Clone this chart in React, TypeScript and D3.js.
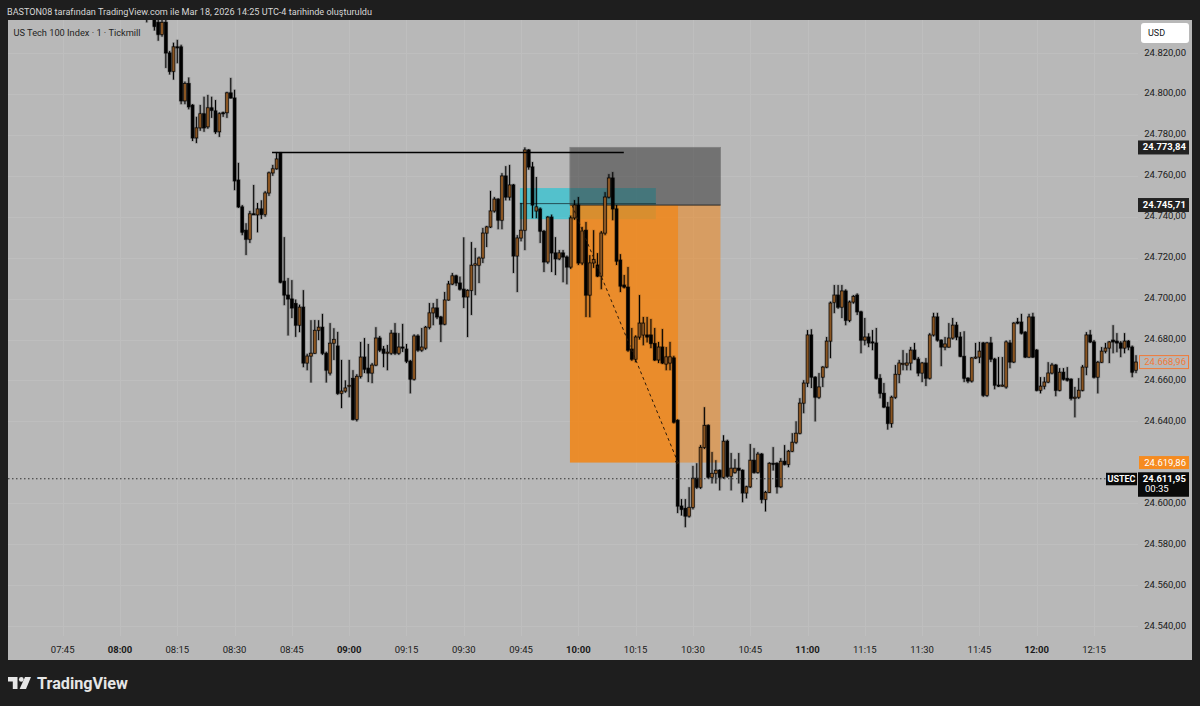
import React from 'react';
import * as d3 from 'd3';

const W = 1200;
const H = 706;

const titleText = 'BASTON08 tarafından TradingView.com ile Mar 18, 2026 14:25 UTC-4 tarihinde oluşturuldu';
const legendText = 'US Tech 100 Index · 1 · Tickmill';

// minutes after 08:00 of the first candle (1-minute candles)
const firstMinute = 7;
// [open, high, low, close]
const candles: number[][] = [
  [24838, 24842, 24835, 24837], [24840, 24844, 24836.5, 24838], [24839, 24841, 24831, 24833], [24835, 24837, 24826, 24829],
  [24829, 24838, 24828, 24835], [24835, 24837, 24812.7, 24820], [24820, 24821, 24809.5, 24811], [24811, 24825, 24807, 24823],
  [24823, 24826.4, 24815, 24822.8], [24823, 24824, 24795, 24796.6], [24796.6, 24806, 24795, 24805], [24805, 24808, 24792.5, 24793.7],
  [24794.5, 24795, 24777, 24778.5], [24778.5, 24788.8, 24776, 24783.4], [24783.4, 24794.6, 24782, 24790.3], [24790.3, 24798.6, 24781.5, 24783.4],
  [24783.9, 24799.5, 24783, 24793.2], [24793.2, 24798.6, 24788.3, 24792], [24791.7, 24797, 24780.5, 24781.5], [24781.5, 24791, 24779, 24790.3],
  [24790.8, 24791.3, 24788.8, 24790.5], [24790.8, 24801, 24788.3, 24800.5], [24800.5, 24807.8, 24797.8, 24798], [24798, 24802, 24753, 24757.5],
  [24757.9, 24766.3, 24744.3, 24744.8], [24744.8, 24745.7, 24731, 24732.4], [24733.4, 24736.8, 24721.3, 24729], [24729, 24742.8, 24727.2, 24741.4],
  [24741.4, 24755.5, 24740.9, 24741.2], [24740.9, 24746.7, 24732.4, 24743.8], [24743.8, 24748, 24738.9, 24741], [24741, 24752.5, 24740, 24751.6],
  [24751.6, 24762, 24750.2, 24761.4], [24761.4, 24765.3, 24760, 24763.4], [24763.4, 24771.5, 24763, 24768.2], [24771, 24771.5, 24707.5, 24708],
  [24708.5, 24730, 24696.8, 24701.7], [24701.7, 24710, 24682, 24699.8], [24699.8, 24709, 24690.5, 24695.4], [24697.5, 24699.5, 24681.3, 24687],
  [24687, 24697, 24683.6, 24695.8], [24695.8, 24704.1, 24666.5, 24668.5], [24668.5, 24673, 24665, 24671.9], [24671.9, 24689.4, 24659, 24673.3],
  [24673.3, 24689.5, 24673, 24684.5], [24684.5, 24689.4, 24679.7, 24686], [24686, 24692.5, 24672.5, 24673.3], [24673.3, 24674, 24659, 24665],
  [24663.6, 24688, 24662.5, 24678.2], [24678.2, 24685.5, 24670, 24680], [24676.8, 24683.7, 24653, 24653.7], [24653.7, 24670, 24646.5, 24654.8],
  [24654.8, 24660, 24654, 24656.3], [24657.2, 24670, 24651.8, 24657.5], [24661, 24665, 24640.5, 24641], [24641, 24663, 24640, 24662],
  [24662, 24678.8, 24661, 24671.4], [24671.4, 24680.7, 24663.6, 24665.5], [24666, 24677.8, 24659.2, 24663.6], [24663.6, 24668.5, 24658.7, 24667.5],
  [24667.5, 24686, 24667, 24680.7], [24680.7, 24681.7, 24673.9, 24674.8], [24675.3, 24676.8, 24666.5, 24673.3], [24673.3, 24677.3, 24665, 24673.8],
  [24673.3, 24684.6, 24672.5, 24683.1], [24683.1, 24688, 24672.5, 24673.3], [24673.3, 24683.1, 24672.5, 24676.3], [24676.3, 24687.6, 24673.9, 24676],
  [24675.3, 24677.8, 24668.5, 24669.4], [24669.4, 24670, 24653.7, 24660.6], [24660.6, 24682.5, 24660, 24681.7], [24681.7, 24682.5, 24674, 24674.8],
  [24674.8, 24685.6, 24674, 24676.3], [24675.8, 24686.6, 24675, 24686], [24686, 24697.8, 24685, 24693], [24693, 24697.8, 24687, 24695.4],
  [24695.4, 24699.8, 24690, 24691], [24691, 24691.5, 24678.8, 24687.5], [24687.5, 24703.2, 24687, 24699.3], [24699.3, 24708.6, 24699, 24707.1],
  [24707.1, 24712.5, 24706.6, 24711.1], [24711.1, 24711.6, 24706.2, 24707.6], [24707.6, 24710.7, 24704, 24704.6], [24704.6, 24729.9, 24695.4, 24700.8],
  [24700.8, 24704.5, 24681.2, 24704], [24704, 24727.6, 24692, 24716.3], [24716.3, 24724.7, 24701.7, 24717], [24716.3, 24720.5, 24707.6, 24719.8],
  [24719.8, 24734.5, 24717.4, 24732], [24732, 24735.5, 24725.2, 24735], [24735, 24752.6, 24734.5, 24742.8], [24742.8, 24749.6, 24742, 24748.6],
  [24748.6, 24749, 24733.9, 24738.3], [24738.3, 24761.3, 24733.9, 24759.9], [24759.9, 24764.7, 24748, 24749.6], [24749.6, 24765.3, 24748, 24755.5],
  [24755.5, 24756, 24712.5, 24720.8], [24720.8, 24731, 24703.2, 24729.6], [24729.6, 24746.7, 24728, 24733.4], [24733.4, 24773.84, 24723.7, 24772.6],
  [24772.6, 24773, 24763, 24764.3], [24764.3, 24766.7, 24739.3, 24745.7], [24742.8, 24759.4, 24739.3, 24744.8], [24743.8, 24744.5, 24727.2, 24732.9],
  [24732.9, 24733.5, 24713, 24717.9], [24717.9, 24740.3, 24717, 24739.8], [24739.8, 24741, 24713, 24722.3], [24722.3, 24730, 24711.5, 24719.4],
  [24719.4, 24723.7, 24718.8, 24722.3], [24722.3, 24723.7, 24708, 24720.3], [24720.3, 24721, 24707, 24715.4], [24715.4, 24740.5, 24714.5, 24739.4],
  [24739.4, 24748.1, 24738.5, 24745.7], [24745.7, 24749.6, 24716.4, 24717.4], [24717.4, 24735, 24716.4, 24733], [24733.4, 24737.4, 24691, 24701.7],
  [24701.7, 24721.2, 24690.9, 24717.4], [24717.4, 24733.4, 24715, 24719], [24716.4, 24722.2, 24710.5, 24711], [24711, 24733, 24704.6, 24732],
  [24732, 24752, 24731, 24749.6], [24749.6, 24760.8, 24749, 24758.9], [24758.9, 24761.8, 24738.3, 24743.8], [24743.8, 24745.7, 24716.4, 24718.3],
  [24718.8, 24721.7, 24703.2, 24706.1], [24706.6, 24711.5, 24705, 24705.6], [24705.6, 24715.4, 24674, 24674.8], [24675.3, 24685.6, 24669.6, 24670.4],
  [24670.4, 24682, 24668.9, 24681.2], [24681.2, 24701.7, 24680, 24688], [24682.2, 24691, 24677.2, 24688], [24682.2, 24691, 24678.6, 24681.2],
  [24682.2, 24690, 24675.8, 24678], [24678, 24685.6, 24669.5, 24670], [24670, 24678.8, 24668.5, 24676.3], [24676.3, 24685.1, 24668, 24668.5],
  [24668, 24676.3, 24665, 24671.5], [24668.5, 24678.8, 24665, 24671.5], [24671, 24672, 24639, 24639.6], [24640.5, 24641, 24595.2, 24598.6],
  [24598.6, 24602, 24594, 24597], [24597.5, 24602, 24588.3, 24593.7], [24593.7, 24607.8, 24593, 24598], [24598, 24618.2, 24597, 24612.2],
  [24612.2, 24619.5, 24607, 24607.8], [24607.8, 24628.4, 24607, 24627.3], [24627.3, 24646.9, 24626.5, 24638], [24638, 24638.5, 24612, 24612.7],
  [24612.7, 24625, 24609.7, 24614.6], [24614.6, 24621, 24609.7, 24616.1], [24616.1, 24616.5, 24606.3, 24612.7], [24612.7, 24633.2, 24612, 24630.3],
  [24630.3, 24631, 24612.5, 24613.2], [24613.2, 24624.5, 24606.3, 24617.1], [24615, 24621.5, 24614.5, 24617.1], [24617.1, 24624.5, 24609.7, 24616.1],
  [24616.1, 24616.5, 24600.5, 24605], [24605, 24608.5, 24602.4, 24608], [24608, 24628.9, 24607.5, 24621], [24621, 24626.9, 24614.5, 24615],
  [24615, 24625, 24614.5, 24624], [24624, 24624.5, 24600, 24601.9], [24601.9, 24606, 24596, 24605.3], [24605.3, 24620, 24605, 24619.5],
  [24619.5, 24627.4, 24616, 24619], [24619.5, 24620, 24604.8, 24608], [24608, 24622, 24607.5, 24620.5], [24620.5, 24628.4, 24618.5, 24619],
  [24619, 24626, 24617.6, 24625.4], [24625.4, 24634.2, 24625, 24629.8], [24629.8, 24640, 24629, 24634.2], [24634.2, 24651.3, 24633.7, 24648.9],
  [24648.9, 24660.1, 24644, 24658.7], [24658.7, 24684.6, 24656.8, 24682.2], [24682.2, 24685, 24656.3, 24661.6], [24661.6, 24662, 24640, 24651.8],
  [24651.8, 24663.6, 24651, 24656.8], [24661.6, 24667, 24656.8, 24666.5], [24666.5, 24681.2, 24666, 24679.2], [24679.2, 24698.5, 24670.9, 24697.8],
  [24698, 24706.6, 24692.9, 24701.7], [24701.7, 24706.6, 24695, 24695.8], [24695.8, 24706.6, 24690.5, 24703.7], [24703.7, 24704.5, 24687, 24689.4],
  [24689.4, 24699, 24688.5, 24698.3], [24698.3, 24701.7, 24697.5, 24701], [24701.7, 24702.5, 24692, 24693.5], [24693.5, 24694, 24673.3, 24679.7],
  [24679.7, 24690.5, 24677.2, 24681.2], [24681.2, 24683, 24676.3, 24678.3], [24678.8, 24684.6, 24674.8, 24678.3], [24678.3, 24685.6, 24660.5, 24661],
  [24661, 24663, 24651.3, 24653.7], [24653.7, 24658.7, 24646.5, 24647], [24647, 24649.4, 24636, 24639], [24639, 24652.5, 24637, 24651.8],
  [24651.8, 24667.5, 24651, 24663], [24663, 24670, 24658.7, 24668.5], [24668, 24674.8, 24665, 24668.3], [24667.5, 24673.3, 24665, 24668.5],
  [24668.5, 24676.3, 24665, 24674.8], [24674.8, 24678.3, 24670, 24670.4], [24670.4, 24671.4, 24662.1, 24663.6], [24663.6, 24669, 24659.2, 24668.5],
  [24668.5, 24670.9, 24657.3, 24661.1], [24661.1, 24683.1, 24660.5, 24682.2], [24682.2, 24693, 24681.5, 24691], [24691, 24693, 24679, 24679.7],
  [24679.7, 24680, 24667, 24676.3], [24676.3, 24681.2, 24674.8, 24677.8], [24676.3, 24688, 24676, 24680.7], [24680.7, 24690.5, 24680, 24687],
  [24687, 24688.5, 24679.7, 24681.2], [24681.2, 24683.6, 24671.4, 24671.8], [24671.8, 24684, 24659.2, 24661], [24661.1, 24661.5, 24658.7, 24659.7],
  [24659.7, 24671.4, 24659, 24671], [24671, 24678.3, 24670.5, 24671.4], [24671.4, 24678.8, 24668.5, 24674.3], [24678.3, 24678.8, 24652, 24652.7],
  [24652.7, 24678.8, 24652, 24678.3], [24678.3, 24681.2, 24669, 24670.4], [24670.4, 24671, 24655.7, 24657.7], [24657.7, 24671.4, 24656.8, 24657.5],
  [24657.5, 24671.4, 24657, 24657.7], [24656.8, 24679.5, 24656, 24678.8], [24678.3, 24679.7, 24666, 24669], [24669, 24688.5, 24668.5, 24688],
  [24688.5, 24690.5, 24687.5, 24688], [24688.5, 24692.5, 24682.5, 24683.1], [24683.6, 24684, 24671, 24671.4], [24671.4, 24692.5, 24671, 24691],
  [24691, 24693, 24671, 24671.4], [24674.8, 24675.3, 24654.7, 24655.2], [24655.2, 24661.6, 24653.7, 24657.2], [24657.2, 24661.6, 24655.7, 24659.2],
  [24659.2, 24668.9, 24658.7, 24663.6], [24663.6, 24668.5, 24663, 24667.5], [24667.5, 24668, 24652.3, 24655.2], [24655.2, 24666, 24654.7, 24664],
  [24664, 24666, 24660, 24660.6], [24661, 24666.5, 24659.5, 24660.1], [24660.6, 24661, 24650.3, 24651.3], [24651.3, 24656.8, 24642, 24651.8],
  [24651.8, 24661.1, 24651, 24655.2], [24655.2, 24667.5, 24654.7, 24666.5], [24666.5, 24683.6, 24662.6, 24682.2], [24682.2, 24684.6, 24678.3, 24678.8],
  [24678.8, 24679.7, 24661, 24661.6], [24661.6, 24669.5, 24653.7, 24668.9], [24668.9, 24676.3, 24668.5, 24674.3], [24674.3, 24678.3, 24673.3, 24675.8],
  [24675.8, 24679.2, 24668.5, 24678.8], [24679.7, 24687, 24673.3, 24678.8], [24679.2, 24683.1, 24673.8, 24678.3], [24678.3, 24679.2, 24671.4, 24675.8],
  [24675.8, 24683.1, 24673.3, 24679.2], [24679.2, 24679.7, 24674.8, 24676.3], [24676.3, 24677, 24661.6, 24664], [24665, 24672.3, 24663.6, 24668.96],
];

const timeTickMinutes = [-15, 0, 15, 30, 45, 60, 75, 90, 105, 120, 135, 150, 165, 180, 195, 210, 225, 240, 255];
const timeTickLabels = ['07:45', '08:00', '08:15', '08:30', '08:45', '09:00', '09:15', '09:30', '09:45', '10:00', '10:15', '10:30', '10:45', '11:00', '11:15', '11:30', '11:45', '12:00', '12:15'];
const boldTimeLabels = ['08:00', '09:00', '10:00', '11:00', '12:00'];
const priceTicks = [24820, 24800, 24780, 24760, 24740, 24720, 24700, 24680, 24660, 24640, 24600, 24580, 24560, 24540];

// short position tool
const position = { startMin: 117.8, hitMin: 146.1, endMin: 157.2, entry: 24745.71, stop: 24773.84, target: 24619.86 };
// cyan zone
const zone = { startMin: 104.7, endMin: 140.3, top: 24754, bottom: 24738.8 };
// swept-high line
const sweepLine = { startMin: 39.8, endMin: 131.9, price: 24771.4 };
const lastPrice = 24668.96;
const livePrice = 24611.95;
const liveSymbol = 'USTEC';
const liveCountdown = '00:35';

const locale = d3.formatLocale({ decimal: ',', thousands: '.', grouping: [3], currency: ['', ''] });
const fmt = locale.format(',.2f');

const BG_DARK = '#1e1e1e';
const BG_PLOT = '#b8b8b8';
const UP = '#8a5522';
const FONT = 'Roboto, "Noto Sans", sans-serif';

export default function App() {
  const x = d3.scaleLinear().domain([0, 255]).range([120, 1094]);
  const y = d3.scaleLinear().domain([24540, 24820]).range([626, 53]);
  const plot = { x0: 8, x1: 1138, y0: 20, y1: 660 };
  const bodyW = 2.8;

  const yEntry = y(position.entry);
  const yStop = y(position.stop);
  const yTarget = y(position.target);
  const xs = x(position.startMin);
  const xh = x(position.hitMin);
  const xe = x(position.endMin);

  return (
    <svg width={W} height={H} style={{ position: 'absolute', left: 0, top: 0, display: 'block' }} fontFamily={FONT}>
      <defs>
        <clipPath id="plotClip">
          <rect x={plot.x0} y={plot.y0} width={plot.x1 - plot.x0} height={plot.y1 - plot.y0} />
        </clipPath>
      </defs>
      <rect x={0} y={0} width={W} height={H} fill={BG_DARK} />
      <rect x={8} y={20} width={1184} height={640} fill={BG_PLOT} />

      {/* grid */}
      <g stroke="#bebebe" strokeWidth={1}>
        {timeTickMinutes.map((m, i) => (
          <line key={'vg' + i} x1={Math.round(x(m)) + 0.5} x2={Math.round(x(m)) + 0.5} y1={20} y2={636} />
        ))}
        {priceTicks.map((p, i) => (
          <line key={'hg' + i} x1={8} x2={plot.x1} y1={Math.round(y(p)) + 0.5} y2={Math.round(y(p)) + 0.5} />
        ))}
      </g>

      <g clipPath="url(#plotClip)">
        {/* cyan zone */}
        <rect x={x(zone.startMin)} y={y(zone.top)} width={x(zone.endMin) - x(zone.startMin)} height={y(zone.bottom) - y(zone.top)} fill="#00c8dc" opacity={0.55} />
        {/* stop area */}
        <rect x={xs} y={yStop} width={xe - xs} height={yEntry - yStop} fill="#3a3a3a" opacity={0.55} stroke="#555" strokeWidth={1} />
        {/* target area: reached part and remaining part */}
        <rect x={xs} y={yEntry} width={xh - xs} height={yTarget - yEntry} fill="#f5820c" opacity={0.82} />
        <rect x={xh} y={yEntry} width={xe - xh} height={yTarget - yEntry} fill="#f5820c" opacity={0.5} />
        <line x1={x(zone.startMin)} x2={x(zone.endMin)} y1={(y(zone.top) + y(zone.bottom)) / 2} y2={(y(zone.top) + y(zone.bottom)) / 2} stroke="#1d3c40" strokeWidth={1} opacity={0.85} />
        <line x1={xs} x2={xe} y1={yEntry} y2={yEntry} stroke="#2a2a2a" strokeWidth={1} />

        {/* candles */}
        {candles.map((c, i) => {
          const [o, h, l, cl] = c;
          const cx = x(firstMinute + i);
          const up = cl >= o;
          const top = y(Math.max(o, cl));
          const bot = y(Math.min(o, cl));
          const bh = Math.max(1, bot - top);
          return (
            <g key={'c' + i}>
              <line x1={cx} x2={cx} y1={y(h) - 0.5} y2={y(l) + 0.5} stroke="rgba(0,0,0,0.2)" strokeWidth={3} />
              <rect x={cx - bodyW / 2 - 1} y={top - 1} width={bodyW + 2} height={bh + 2} fill="rgba(0,0,0,0.18)" />
              <line x1={cx} x2={cx} y1={y(h)} y2={y(l)} stroke="#000" strokeWidth={1} />
              <rect x={cx - bodyW / 2} y={top} width={bodyW} height={bh} fill={up ? UP : '#000'} stroke="#000" strokeWidth={0.6} />
            </g>
          );
        })}

        {/* swept high line */}
        <line x1={x(sweepLine.startMin)} x2={x(sweepLine.endMin)} y1={y(sweepLine.price)} y2={y(sweepLine.price)} stroke="#000" strokeWidth={1.5} />
        {/* position path */}
        <line x1={xs + 2} y1={yEntry} x2={xh} y2={yTarget} stroke="#2b1a0a" strokeWidth={1} strokeDasharray="3,3" />
        <path d={`M${xh - 3},${yTarget - 1} L${xh + 1},${yTarget} L${xh - 2},${yTarget + 2}`} fill="none" stroke="#2b1a0a" strokeWidth={1} />
      </g>

      {/* live price dotted line */}
      <line x1={8} x2={1106} y1={y(livePrice)} y2={y(livePrice)} stroke="#333" strokeWidth={1} strokeDasharray="1.5,2.5" />

      {/* price axis */}
      <g fontSize={9.5} fill="#1a1a1a" textAnchor="end">
        {priceTicks.map((p, i) => (
          <text key={'pt' + i} x={1186} y={y(p)} dominantBaseline="middle">{fmt(p)}</text>
        ))}
      </g>
      <rect x={1141} y={23} width={48} height={20} rx={3} fill="#ffffff" />
      <text x={1148} y={33.5} fontSize={9} fill="#131722" dominantBaseline="middle">USD</text>

      {/* highlighted price labels */}
      <rect x={1138} y={y(position.stop) - 7} width={51} height={14} fill="#222" />
      <text x={1186} y={y(position.stop) + 0.5} fontSize={9.5} fontWeight={700} fill="#fff" textAnchor="end" dominantBaseline="middle">{fmt(position.stop)}</text>
      <rect x={1138} y={yEntry - 7} width={51} height={14} fill="#222" />
      <text x={1186} y={yEntry + 0.5} fontSize={9.5} fontWeight={700} fill="#fff" textAnchor="end" dominantBaseline="middle">{fmt(position.entry)}</text>

      <rect x={1139.5} y={y(lastPrice) - 6.5} width={49} height={13} fill={BG_PLOT} stroke="#f07a38" strokeWidth={1} />
      <text x={1186} y={y(lastPrice) + 0.5} fontSize={9.5} fill="#f07a38" textAnchor="end" dominantBaseline="middle">{fmt(lastPrice)}</text>

      <rect x={1139} y={yTarget - 6.5} width={50} height={13} fill="#f68b1f" />
      <text x={1186} y={yTarget + 0.5} fontSize={9.5} fill="#fff" textAnchor="end" dominantBaseline="middle">{fmt(position.target)}</text>

      <rect x={1138} y={y(livePrice) - 6.5} width={51} height={24.5} fill="#0a0a0a" />
      <text x={1186} y={y(livePrice) + 0.5} fontSize={9.5} fontWeight={700} fill="#fff" textAnchor="end" dominantBaseline="middle">{fmt(livePrice)}</text>
      <text x={1145} y={y(livePrice) + 11} fontSize={9.5} fill="#fff" dominantBaseline="middle">{liveCountdown}</text>
      <rect x={1106} y={y(livePrice) - 6} width={31} height={12.5} fill="#0a0a0a" />
      <text x={1121.5} y={y(livePrice) + 0.5} fontSize={9} fontWeight={700} fill="#fff" textAnchor="middle" dominantBaseline="middle">{liveSymbol}</text>

      {/* time axis */}
      <g fontSize={9.5} fill="#1a1a1a" textAnchor="middle">
        {timeTickMinutes.map((m, i) => (
          <text key={'tt' + i} x={x(m)} y={650} dominantBaseline="middle" fontWeight={boldTimeLabels.includes(timeTickLabels[i]) ? 700 : 400}>{timeTickLabels[i]}</text>
        ))}
      </g>

      {/* header texts */}
      <text x={7} y={14.5} fontSize={9.5} fill="#d6d6d6" textLength={365} lengthAdjust="spacingAndGlyphs">{titleText}</text>
      <text x={13.5} y={35.5} fontSize={9.5} fill="#1f1f1f" textLength={127} lengthAdjust="spacingAndGlyphs">{legendText}</text>

      {/* TradingView logo */}
      <g fill="#e6e6e6">
        <path d="M8,677 H17.5 V689 H12.8 V681.4 H8 Z" />
        <circle cx={21.3} cy={679.4} r={2.4} />
        <path d="M25,677 H31 L26,689 H19.6 Z" />
        <text x={37} y={689} fontSize={17} fontWeight={700} textLength={91} lengthAdjust="spacingAndGlyphs">TradingView</text>
      </g>
    </svg>
  );
}
